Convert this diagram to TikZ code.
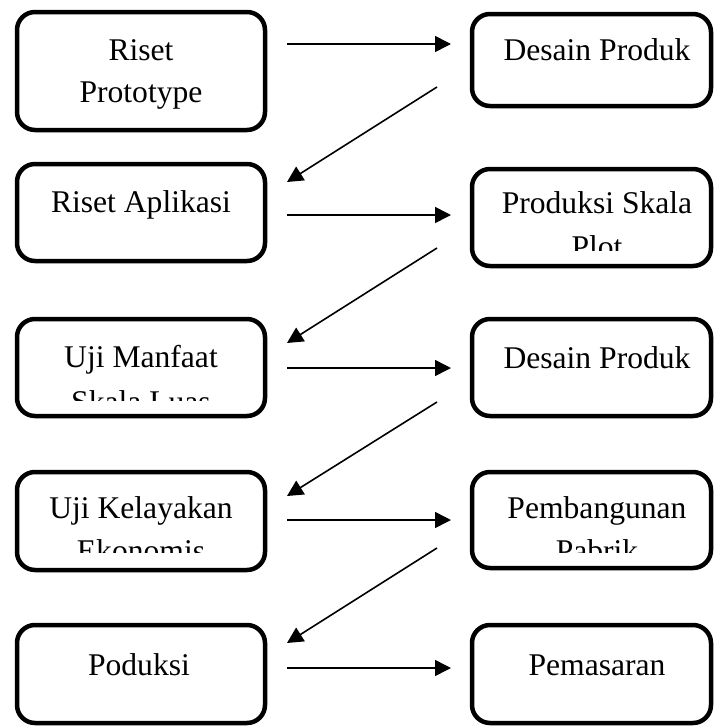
\documentclass[tikz,border=0pt]{standalone}
\usepackage{fontspec}
\setmainfont{Liberation Serif}
\usetikzlibrary{arrows.meta}
\begin{document}
\begin{tikzpicture}[x=1pt,y=-1pt,
  stage/.style={draw, line width=4.5pt, rounded corners=18pt, inner sep=0pt, outer sep=0pt},
  wide/.style={minimum width=248pt},
  narrow/.style={minimum width=239pt},
  label/.style={anchor=base, inner sep=0pt, font=\fontsize{31.6}{38}\selectfont},
  flow/.style={line width=1.6pt, -{Triangle[length=16pt,width=16pt]}}]
\useasboundingbox[fill=white] (0,0) rectangle (713,726);

% stage boxes, left column
\node[stage, wide, minimum height=118pt] (l1) at (141,71) {};
\node[stage, wide, minimum height=97pt]  (l2) at (141,212.5) {};
\node[stage, wide, minimum height=97pt]  (l3) at (141,367.5) {};
\node[stage, wide, minimum height=98pt]  (l4) at (141,521) {};
\node[stage, wide, minimum height=98pt]  (l5) at (141,674) {};
% stage boxes, right column
\node[stage, narrow, minimum height=92pt] (r1) at (591.5,60) {};
\node[stage, narrow, minimum height=97pt] (r2) at (591.5,217.5) {};
\node[stage, narrow, minimum height=97pt] (r3) at (591.5,367.5) {};
\node[stage, narrow, minimum height=96pt] (r4) at (591.5,520) {};
\node[stage, narrow, minimum height=98pt] (r5) at (591.5,674) {};

% labels
\node[label] (t1a) at (141,60)  {Riset};
\node[label] (t1b) at (141,102) {Prototype};
\node[label] (t2)  at (597,60)  {Desain Produk};
\node[label] (t3)  at (141,212) {Riset Aplikasi};
\node[label] (t4a) at (597,213) {Produksi Skala};
\begin{scope}
  \clip (0,0) rectangle (713,250);
  \node[label] (t4b) at (597,257) {Plot};
\end{scope}
\node[label] (t5a) at (141,367) {Uji Manfaat};
\begin{scope}
  \clip (0,0) rectangle (713,400);
  \node[label] (t5b) at (141,412) {Skala Luas};
\end{scope}
\node[label] (t6)  at (597,368) {Desain Produk};
\node[label] (t7a) at (141,518) {Uji Kelayakan};
\node[label] (t8a) at (597,518) {Pembangunan};
\begin{scope}
  \clip (0,0) rectangle (713,552);
  \node[label] (t7b) at (141,561) {Ekonomis};
  \node[label] (t8b) at (597,561) {Pabrik};
\end{scope}
\node[label] (t9)  at (139,675) {Poduksi};
\node[label] (t10) at (597,675) {Pemasaran};

% connector end points
\coordinate (h1s) at (287,44);  \coordinate (h1e) at (451,44);
\coordinate (h2s) at (287,215); \coordinate (h2e) at (451,215);
\coordinate (h3s) at (287,368); \coordinate (h3e) at (451,368);
\coordinate (h4s) at (287,520); \coordinate (h4e) at (451,520);
\coordinate (h5s) at (287,668); \coordinate (h5e) at (451,668);
\coordinate (d1s) at (437,87);  \coordinate (d1e) at (287,182);
\coordinate (d2s) at (437,248); \coordinate (d2e) at (287,343);
\coordinate (d3s) at (437,402); \coordinate (d3e) at (287,496);
\coordinate (d4s) at (437,548); \coordinate (d4e) at (287,643);

% connectors
\foreach \n in {1,...,5} \draw[flow] (h\n s) -- (h\n e);
\foreach \n in {1,...,4} \draw[flow] (d\n s) -- (d\n e);
\end{tikzpicture}
\end{document}
